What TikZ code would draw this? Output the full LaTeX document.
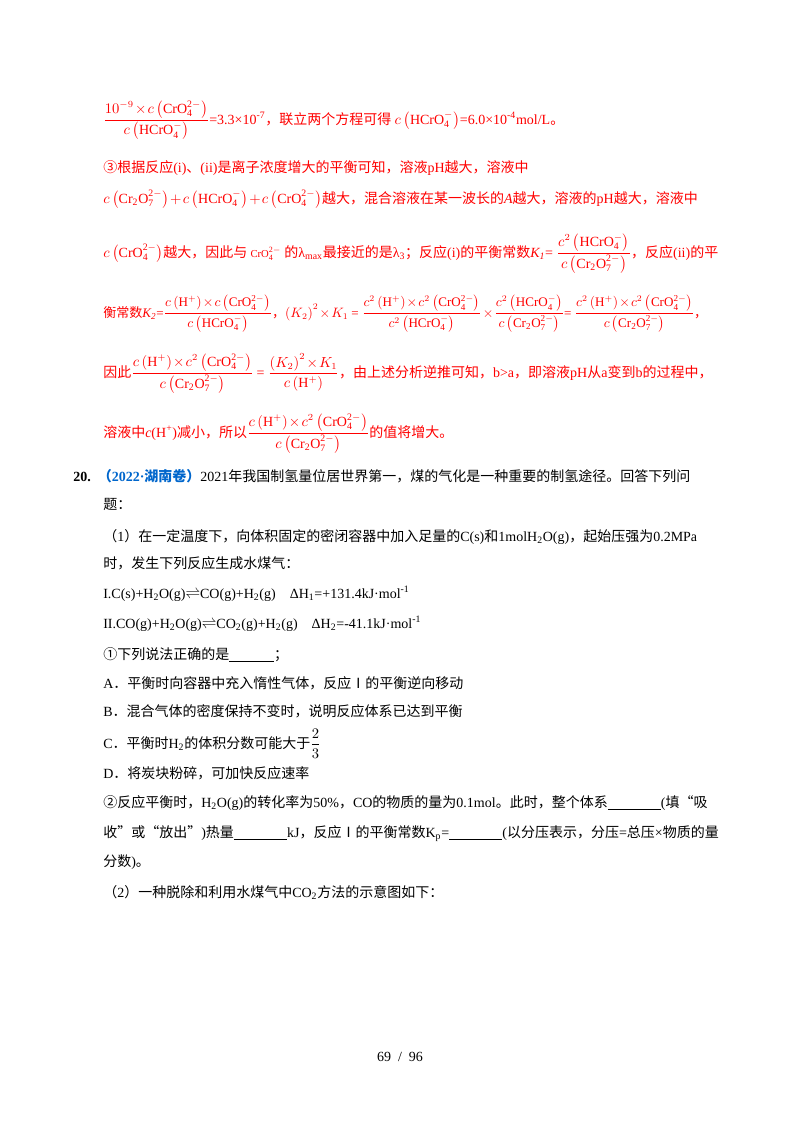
\documentclass[tikz,border=0pt]{standalone}
\usepackage{amsmath}
\usepackage{graphicx}
\usepackage{fontspec}
\setmainfont{Liberation Serif}
\newfontfamily\cjk{Noto Sans CJK SC}
\newfontfamily\latin{Liberation Serif}
\XeTeXinterchartokenstate=1
\newXeTeXintercharclass\cjkclass
\newcount\cc
\def\setrange#1#2{\cc=#1 \loop\XeTeXcharclass\cc=\cjkclass\advance\cc 1 \ifnum\cc<#2 \repeat}
\setrange{"4E00}{"A000}
\setrange{"3000}{"3040}
\setrange{"FF00}{"FFF0}
\setrange{"2460}{"2474}
\setrange{"2160}{"2170}
\XeTeXcharclass"201C=\cjkclass
\XeTeXcharclass"201D=\cjkclass
\XeTeXinterchartoks 0 \cjkclass = {\cjk}
\XeTeXinterchartoks 4095 \cjkclass = {\cjk}
\XeTeXinterchartoks \cjkclass 0 = {\latin}
\XeTeXinterchartoks 4095 0 = {\latin}
\definecolor{myred}{RGB}{255,0,0}
\definecolor{myblue}{RGB}{0,102,204}
\newcommand{\R}[1]{\mathrm{#1}}
\medmuskip=1.5mu
\thickmuskip=2mu
\begin{document}
\begin{tikzpicture}[x=0.75pt,y=-0.75pt,
  every node/.style={anchor=base west,inner sep=0pt,font=\fontsize{10.5}{12}\selectfont},
  rl/.style={text=myred},
  bl/.style={text=black}]
\useasboundingbox (0,0) rectangle (800,1132);
\node[rl] (l1) at (103,124) {$\dfrac{10^{-9}\times c\left(\R{CrO_4^{2-}}\right)}{c\left(\R{HCrO_4^{-}}\right)}$=3.3×10\textsuperscript{-7}，联立两个方程可得 $c\left(\R{HCrO_4^{-}}\right)$=6.0×10\textsuperscript{-4}mol/L。};
\node[rl] (l2) at (103,172) {③根据反应(i)、(ii)是离子浓度增大的平衡可知，溶液pH越大，溶液中};
\node[rl] (l3) at (103,203) {$c\left(\R{Cr_2O_7^{2-}}\right)+c\left(\R{HCrO_4^{-}}\right)+c\left(\R{CrO_4^{2-}}\right)$越大，混合溶液在某一波长的\textit{A}越大，溶液的pH越大，溶液中};
\node[rl] (l4) at (103,257) {$c\left(\R{CrO_4^{2-}}\right)$越大，因此与\ {\footnotesize$\R{CrO_4^{2-}}$}\ 的λ\textsubscript{max}最接近的是λ\textsubscript{3}；反应(i)的平衡常数\textit{K\textsubscript{1}}= $\dfrac{c^2\left(\R{HCrO_4^{-}}\right)}{c\left(\R{Cr_2O_7^{2-}}\right)}$，反应(ii)的平};
\node[rl] (l5) at (103,317) {\resizebox{453pt}{!}{衡常数\textit{K\textsubscript{2}}=$\dfrac{c\left(\R{H^+}\right)\times c\left(\R{CrO_4^{2-}}\right)}{c\left(\R{HCrO_4^{-}}\right)}$，$\left(K_2\right)^2\times K_1$ = $\dfrac{c^2\left(\R{H^+}\right)\times c^2\left(\R{CrO_4^{2-}}\right)}{c^2\left(\R{HCrO_4^{-}}\right)}\times\dfrac{c^2\left(\R{HCrO_4^{-}}\right)}{c\left(\R{Cr_2O_7^{2-}}\right)}$= $\dfrac{c^2\left(\R{H^+}\right)\times c^2\left(\R{CrO_4^{2-}}\right)}{c\left(\R{Cr_2O_7^{2-}}\right)}$，}};
\node[rl] (l6) at (103,377) {因此$\dfrac{c\left(\R{H^+}\right)\times c^2\left(\R{CrO_4^{2-}}\right)}{c\left(\R{Cr_2O_7^{2-}}\right)}$ = $\dfrac{\left(K_2\right)^2\times K_1}{c\left(\R{H^+}\right)}$，由上述分析逆推可知，b>a，即溶液pH从a变到b的过程中，};
\node[rl] (l7) at (103,437) {溶液中\textit{c}(H\textsuperscript{+})减小，所以$\dfrac{c\left(\R{H^+}\right)\times c^2\left(\R{CrO_4^{2-}}\right)}{c\left(\R{Cr_2O_7^{2-}}\right)}$的值将增大。};
\node[bl] (q20) at (73,481) {\textbf{20.}\ \ \textcolor{myblue}{\textbf{（2022·湖南卷）}}2021年我国制氢量位居世界第一，煤的气化是一种重要的制氢途径。回答下列问};
\node[bl] (b1) at (103,509) {题：};
\node[bl] (b2) at (103,541) {（1）在一定温度下，向体积固定的密闭容器中加入足量的C(s)和1molH\textsubscript{2}O(g)，起始压强为0.2MPa};
\node[bl] (b3) at (103,568) {时，发生下列反应生成水煤气：};
\node[bl] (b4) at (103,598) {I.C(s)+H\textsubscript{2}O(g)$\rightleftharpoons$CO(g)+H\textsubscript{2}(g)\quad ΔH\textsubscript{1}=+131.4kJ·mol\textsuperscript{-1}};
\node[bl] (b5) at (103,628) {II.CO(g)+H\textsubscript{2}O(g)$\rightleftharpoons$CO\textsubscript{2}(g)+H\textsubscript{2}(g)\quad ΔH\textsubscript{2}=-41.1kJ·mol\textsuperscript{-1}};
\node[bl] (b6) at (103,659) {①下列说法正确的是\underline{\hspace{3.2em}}；};
\node[bl] (b7) at (103,688) {A．平衡时向容器中充入惰性气体，反应Ⅰ的平衡逆向移动};
\node[bl] (b8) at (103,716) {B．混合气体的密度保持不变时，说明反应体系已达到平衡};
\node[bl] (b9) at (103,748) {C．平衡时H\textsubscript{2}的体积分数可能大于$\dfrac{2}{3}$};
\node[bl] (b10) at (103,778) {D．将炭块粉碎，可加快反应速率};
\node[bl] (b11) at (103,807) {②反应平衡时，H\textsubscript{2}O(g)的转化率为50\%，CO的物质的量为0.1mol。此时，整个体系\underline{\hspace{3.8em}}(填“吸};
\node[bl] (b12) at (103,837) {收”或“放出”)热量\underline{\hspace{3.8em}}kJ，反应Ⅰ的平衡常数K\textsubscript{p}=\underline{\hspace{3.8em}}(以分压表示，分压=总压×物质的量};
\node[bl] (b13) at (103,866) {分数)。};
\node[bl] (b14) at (103,897) {（2）一种脱除和利用水煤气中CO\textsubscript{2}方法的示意图如下：};
\node[bl,anchor=base] (pg) at (400,1061) {69 \ / \ 96};
\end{tikzpicture}
\end{document}
